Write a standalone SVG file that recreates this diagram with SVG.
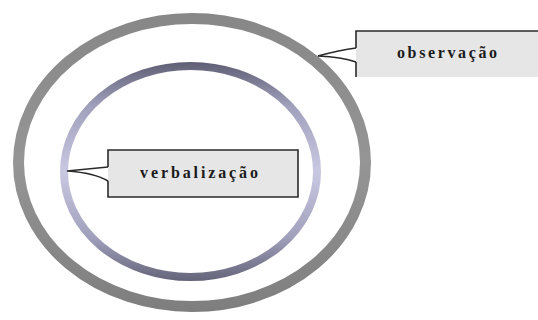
<svg xmlns="http://www.w3.org/2000/svg" width="538" height="320" viewBox="0 0 538 320">
<style>
.lbl{font-family:"Liberation Serif","Times New Roman",serif;font-weight:bold;font-size:16px;fill:#1a1a1a}
.box{fill:#e6e6e6}
.edge{fill:none;stroke:#2a2a2a;stroke-width:1.6;stroke-linejoin:miter}
</style>
<defs>
<linearGradient id="gOuter" gradientUnits="userSpaceOnUse" x1="0" y1="13" x2="0" y2="312">
<stop offset="0" stop-color="#878787"/>
<stop offset="0.5" stop-color="#959595"/>
<stop offset="1" stop-color="#7e7e7e"/>
</linearGradient>
<linearGradient id="gInner" gradientUnits="userSpaceOnUse" x1="0" y1="62" x2="0" y2="281">
<stop offset="0" stop-color="#5e5e74"/>
<stop offset="0.2" stop-color="#a0a0bc"/>
<stop offset="0.5" stop-color="#c8c8e2"/>
<stop offset="0.8" stop-color="#a0a0bc"/>
<stop offset="1" stop-color="#64647a"/>
</linearGradient>
</defs>
<rect width="538" height="320" fill="#fff"/>
<g id="observacao-ring">
<ellipse cx="192" cy="162.5" rx="173.5" ry="144" fill="none" stroke="url(#gOuter)" stroke-width="11"/>
</g>
<g id="verbalizacao-ring">
<ellipse cx="190.5" cy="171.5" rx="126.5" ry="105.5" fill="none" stroke="url(#gInner)" stroke-width="8"/>
</g>
<g id="observacao">
<rect class="box" x="356" y="31" width="182" height="46"/>
<path class="edge" d="M538,31 H356 V48 M356,62 V77"/>
<text class="lbl" x="397" y="58" textLength="100" lengthAdjust="spacing">observação</text>
</g>
<g id="verbalizacao">
<rect class="box" x="108" y="150" width="190" height="47"/>
<path class="edge" d="M108,167 V150 H298 V197 H108 V181"/>
<text class="lbl" x="140" y="178" textLength="118" lengthAdjust="spacing">verbalização</text>
</g>
<g id="connectors">
<path class="edge" d="M356,48 Q340,50 318,56 Q342,57 356,62"/>
<path class="edge" d="M108,167 L67,171 Q95,173 108,181"/>
</g>
</svg>
